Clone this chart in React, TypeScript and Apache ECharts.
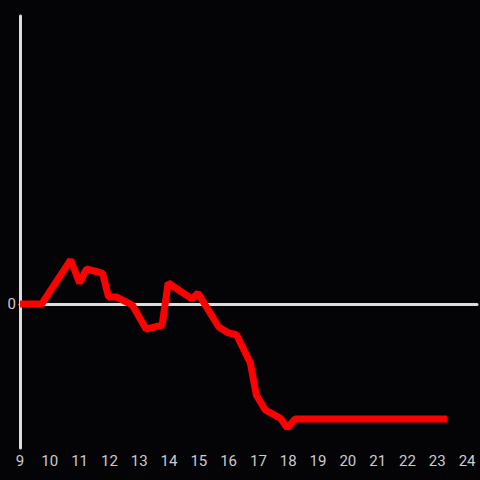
import React, { useEffect, useRef } from "react";
import * as echarts from "echarts";

const hours = [9.0, 9.73, 10.7, 11.0, 11.23, 11.77, 11.97, 12.23, 12.77, 13.23, 13.77, 13.97, 14.33, 14.77, 14.97, 15.67, 16.0, 16.27, 16.73, 16.93, 17.23, 17.73, 17.97, 18.23, 23.33];
const values = [0, 0, 30.6, 14.6, 24.3, 21.5, 4.9, 4.9, -0.7, -17.4, -14.6, 14.6, 9.7, 3.5, 7.6, -16, -20.1, -21.5, -41, -63.2, -73.6, -79.2, -86.1, -79.9, -79.9];

export default function App() {
  const ref = useRef<HTMLDivElement>(null);
  useEffect(() => {
    if (!ref.current) return;
    const chart = echarts.init(ref.current, null, { renderer: "svg" });
    chart.setOption({
      animation: false,
      backgroundColor: "#040306",
      grid: { left: 20, right: 0, top: 16, bottom: 32 },
      xAxis: {
        type: "value",
        min: 9,
        max: 24.3333,
        interval: 1,
        axisLine: { onZero: true, lineStyle: { color: "#dddddd", width: 3 } },
        axisTick: { show: false },
        splitLine: { show: false },
        axisLabel: {
          color: "#cccccc",
          fontSize: 15,
          margin: 5,
          fontFamily: "Roboto",
          formatter: (v: number) => (Math.abs(v - Math.round(v)) < 1e-6 ? String(Math.round(v)) : ""),
        },
      },
      yAxis: {
        type: "value",
        min: -100,
        max: 200,
        interval: 100,
        axisLine: { show: true, onZero: false, lineStyle: { color: "#dddddd", width: 3 } },
        axisTick: { show: false },
        splitLine: { show: false },
        axisLabel: {
          color: "#cccccc",
          fontSize: 15,
          margin: 4,
          fontFamily: "Roboto",
          formatter: (v: number) => (v === 0 ? "0" : ""),
        },
      },
      series: [
        {
          type: "line",
          data: hours.map((h, i) => [h, values[i]]),
          showSymbol: false,
          lineStyle: { color: "#ff0000", width: 7 },
        },
      ],
    });
    return () => chart.dispose();
  }, []);
  return <div ref={ref} style={{ width: 480, height: 480, position: "absolute", left: 0, top: 0 }} />;
}
